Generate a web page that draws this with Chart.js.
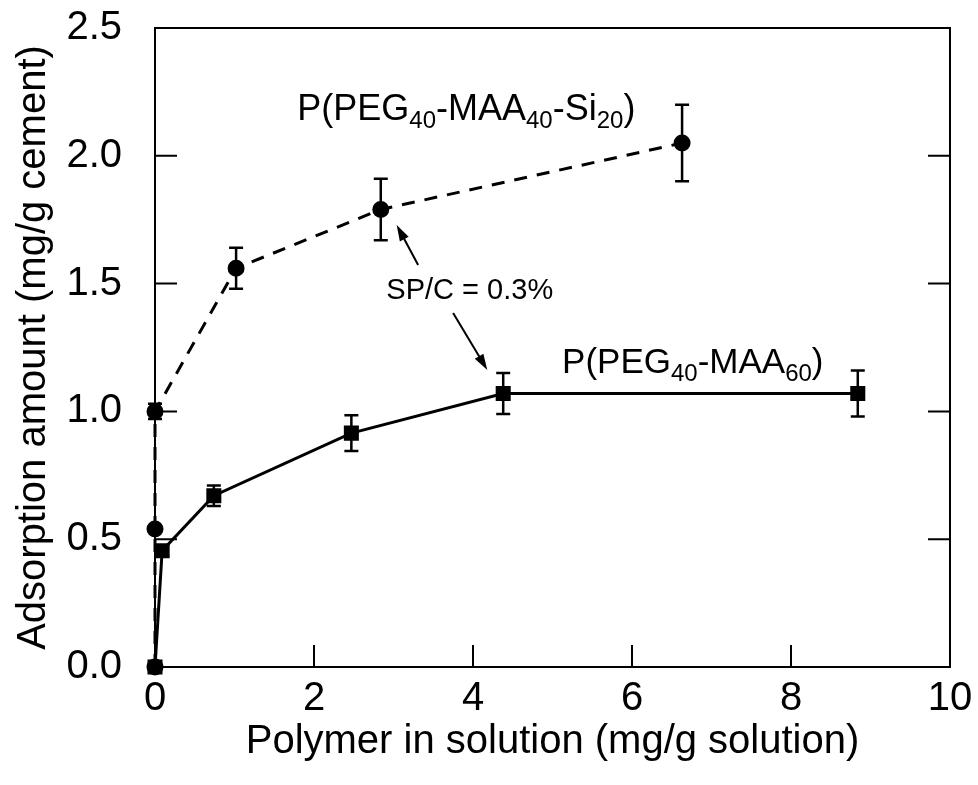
<!DOCTYPE html>
<html>
<head>
<meta charset="utf-8">
<script src="https://cdn.jsdelivr.net/npm/chart.js@4/dist/chart.umd.min.js"></script>
<style>
  body { margin: 0; background: #fff; }
  #wrap { width: 978px; height: 785px; }
</style>
</head>
<body>
<div id="wrap"><canvas id="adsChart"></canvas></div>
<script>
// P(PEG40-MAA40-Si20) - circles, dashed
const xSi = [0, 0, 0, 1.02, 2.84, 6.63];
const ySi = [0, 0.54, 1.00, 1.56, 1.79, 2.05];
const errSi = [0, 0, 0.03, 0.08, 0.12, 0.15];

// P(PEG40-MAA60) - squares, solid
const xMaa = [0, 0.09, 0.74, 2.47, 4.38, 8.84];
const yMaa = [0, 0.455, 0.67, 0.915, 1.07, 1.07];
const errMaa = [0, 0.02, 0.04, 0.07, 0.08, 0.09];

const xTicks = [0, 2, 4, 6, 8, 10];
const yTicks = [0, 0.5, 1.0, 1.5, 2.0, 2.5];

const FONT = '"Liberation Sans", Arial, sans-serif';

function toPoints(xs, ys) {
    return xs.map((x, i) => ({ x: x, y: ys[i] }));
}

// texte avec indices
function drawSubText(ctx, parts, x, y, size) {
    let cx = x;
    ctx.textBaseline = 'alphabetic';
    ctx.textAlign = 'left';
    parts.forEach(p => {
        if (p.sub) {
            ctx.font = Math.round(size * 0.68) + 'px ' + FONT;
            ctx.fillText(p.t, cx, y + size * 0.22);
        } else {
            ctx.font = size + 'px ' + FONT;
            ctx.fillText(p.t, cx, y);
        }
        cx += ctx.measureText(p.t).width;
    });
}

function drawArrow(ctx, x0, y0, x1, y1) {
    const ang = Math.atan2(y1 - y0, x1 - x0);
    const len = 16, half = 5;
    ctx.beginPath();
    ctx.moveTo(x0, y0);
    ctx.lineTo(x1 - Math.cos(ang) * len * 0.8, y1 - Math.sin(ang) * len * 0.8);
    ctx.lineWidth = 2;
    ctx.stroke();
    ctx.beginPath();
    ctx.moveTo(x1, y1);
    ctx.lineTo(x1 - Math.cos(ang) * len - Math.sin(ang) * half, y1 - Math.sin(ang) * len + Math.cos(ang) * half);
    ctx.lineTo(x1 - Math.cos(ang) * len + Math.sin(ang) * half, y1 - Math.sin(ang) * len - Math.cos(ang) * half);
    ctx.closePath();
    ctx.fill();
}

const extras = {
    id: 'extras',
    beforeDatasetsDraw(chart) {
        const ctx = chart.ctx;
        const xs = chart.scales.x, ys = chart.scales.y;
        ctx.save();
        ctx.strokeStyle = '#000';
        ctx.lineWidth = 2.5;
        // barres d'erreur
        [[xSi, ySi, errSi], [xMaa, yMaa, errMaa]].forEach(([xa, ya, ea]) => {
            xa.forEach((x, i) => {
                if (!ea[i]) return;
                const px = xs.getPixelForValue(x);
                const top = ys.getPixelForValue(ya[i] + ea[i]);
                const bot = ys.getPixelForValue(ya[i] - ea[i]);
                ctx.beginPath();
                ctx.moveTo(px, top); ctx.lineTo(px, bot);
                ctx.moveTo(px - 7, top); ctx.lineTo(px + 7, top);
                ctx.moveTo(px - 7, bot); ctx.lineTo(px + 7, bot);
                ctx.stroke();
            });
        });
        ctx.restore();
    },
    afterDraw(chart) {
        const ctx = chart.ctx;
        const a = chart.chartArea;
        const xs = chart.scales.x, ys = chart.scales.y;
        ctx.save();
        ctx.strokeStyle = '#000';
        ctx.fillStyle = '#000';
        ctx.lineWidth = 2;
        // cadre
        ctx.strokeRect(a.left, a.top, a.right - a.left, a.bottom - a.top);
        // graduations vers l'intérieur
        const tl = 22;
        ctx.beginPath();
        xTicks.forEach(v => {
            if (v === 0 || v === 10) return;
            const px = xs.getPixelForValue(v);
            ctx.moveTo(px, a.bottom); ctx.lineTo(px, a.bottom - tl);
        });
        yTicks.forEach(v => {
            if (v === 0 || v === 2.5) return;
            const py = ys.getPixelForValue(v);
            ctx.moveTo(a.left, py); ctx.lineTo(a.left + tl, py);
            ctx.moveTo(a.right, py); ctx.lineTo(a.right - tl, py);
        });
        ctx.stroke();

        // annotations
        drawSubText(ctx, [{t: 'P(PEG'}, {t: '40', sub: true}, {t: '-MAA'}, {t: '40', sub: true}, {t: '-Si'}, {t: '20', sub: true}, {t: ')'}],
            xs.getPixelForValue(1.79), ys.getPixelForValue(2.14), 36);
        drawSubText(ctx, [{t: 'P(PEG'}, {t: '40', sub: true}, {t: '-MAA'}, {t: '60', sub: true}, {t: ')'}],
            xs.getPixelForValue(5.12), ys.getPixelForValue(1.15), 35);
        ctx.font = '29px ' + FONT;
        ctx.textAlign = 'left';
        ctx.textBaseline = 'alphabetic';
        ctx.fillText('SP/C = 0.3%', xs.getPixelForValue(2.91), ys.getPixelForValue(1.44));

        drawArrow(ctx, xs.getPixelForValue(3.31), ys.getPixelForValue(1.573), xs.getPixelForValue(3.04), ys.getPixelForValue(1.729));
        drawArrow(ctx, xs.getPixelForValue(3.75), ys.getPixelForValue(1.385), xs.getPixelForValue(4.18), ys.getPixelForValue(1.162));
        ctx.restore();
    }
};

const ctx = document.getElementById('adsChart').getContext('2d');
const adsChart = new Chart(ctx, {
    type: 'scatter',
    data: {
        datasets: [{
            label: 'P(PEG40-MAA40-Si20)',
            data: toPoints(xSi, ySi),
            showLine: true,
            borderColor: '#000',
            backgroundColor: '#000',
            borderWidth: 3,
            borderDash: [13, 10],
            pointStyle: 'circle',
            pointRadius: 7,
            pointHoverRadius: 7,
            clip: false
        }, {
            label: 'P(PEG40-MAA60)',
            data: toPoints(xMaa, yMaa),
            showLine: true,
            borderColor: '#000',
            backgroundColor: '#000',
            borderWidth: 3,
            pointStyle: 'rect',
            pointRadius: 8.5,
            pointHoverRadius: 8.5,
            clip: false
        }]
    },
    options: {
        responsive: true,
        maintainAspectRatio: false,
        devicePixelRatio: 1,
        animation: false,
        layout: { padding: { top: 28, right: 28, left: 0, bottom: 0 } },
        plugins: {
            legend: { display: false },
            tooltip: { enabled: false }
        },
        scales: {
            x: {
                type: 'linear',
                min: 0,
                max: 10,
                afterBuildTicks: s => { s.ticks = xTicks.map(v => ({ value: v })); },
                afterFit: s => { s.height = 118; s.paddingLeft = 0; s.paddingRight = 0; },
                ticks: {
                    color: '#000',
                    font: { family: FONT, size: 40 },
                    padding: 0,
                    maxRotation: 0
                },
                grid: { display: false },
                border: { display: true, color: '#000', width: 2 },
                title: {
                    display: true,
                    text: 'Polymer in solution (mg/g solution)',
                    color: '#000',
                    font: { family: FONT, size: 40 },
                    padding: { top: 0, bottom: 19 }
                }
            },
            y: {
                type: 'linear',
                min: 0,
                max: 2.5,
                afterBuildTicks: s => { s.ticks = yTicks.map(v => ({ value: v })); },
                afterFit: s => { s.width = 155; s.paddingTop = 0; s.paddingBottom = 0; },
                ticks: {
                    color: '#000',
                    font: { family: FONT, size: 40 },
                    padding: 25,
                    callback: v => v.toFixed(1)
                },
                grid: { display: false },
                border: { display: true, color: '#000', width: 2 },
                title: {
                    display: true,
                    text: 'Adsorption amount (mg/g cement)',
                    color: '#000',
                    font: { family: FONT, size: 40 },
                    padding: { top: 10, bottom: 0 }
                }
            }
        }
    },
    plugins: [extras]
});
</script>
</body>
</html>
